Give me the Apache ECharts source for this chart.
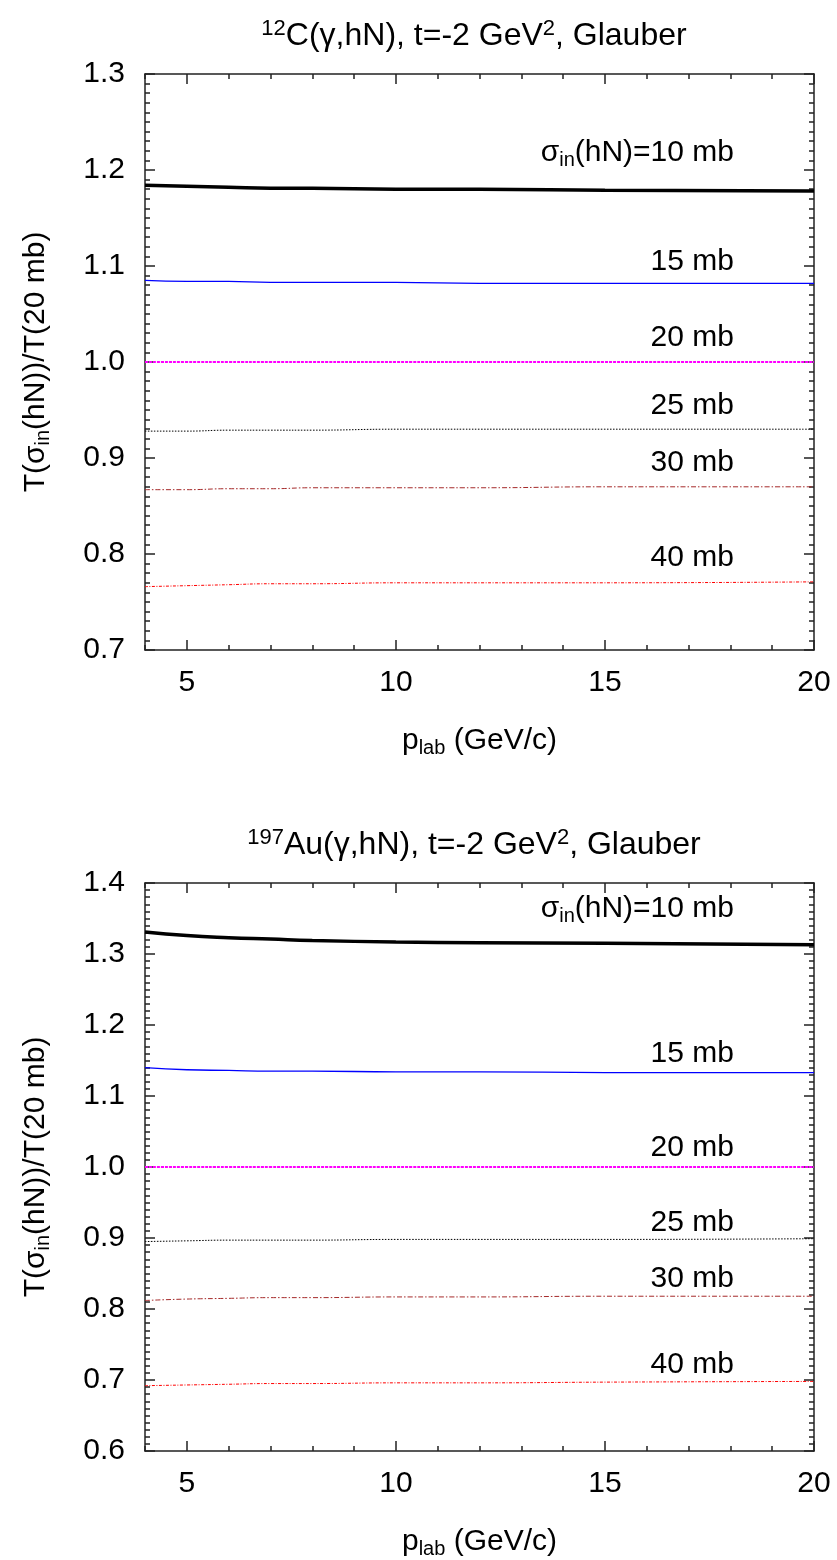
<!DOCTYPE html>
<html>
<head>
<meta charset="utf-8" />
<title>Glauber ratios</title>
<script src="https://cdn.jsdelivr.net/npm/echarts@6/dist/echarts.min.js"></script>
<style>
  * { margin: 0; padding: 0; }
  html, body { width: 837px; height: 1560px; background: #fff; }
</style>
</head>
<body>
<div id="main" style="width:837px;height:1560px;"></div>
<script>
// p_lab (GeV/c)
const pLab = [4, 5, 6, 7, 8, 10, 12, 15, 20];
const xMajorTicks = [5, 10, 15, 20];

// 12C panel
const c12_10mb = [1.184, 1.183, 1.182, 1.181, 1.181, 1.180, 1.180, 1.179, 1.178];
const c12_15mb = [1.085, 1.084, 1.084, 1.083, 1.083, 1.083, 1.082, 1.082, 1.082];
const c12_20mb = [1.000, 1.000, 1.000, 1.000, 1.000, 1.000, 1.000, 1.000, 1.000];
const c12_25mb = [0.928, 0.928, 0.929, 0.929, 0.929, 0.930, 0.930, 0.930, 0.930];
const c12_30mb = [0.867, 0.867, 0.868, 0.868, 0.869, 0.869, 0.869, 0.870, 0.870];
const c12_40mb = [0.766, 0.767, 0.768, 0.769, 0.769, 0.770, 0.770, 0.770, 0.771];

// 197Au panel
const au_10mb = [1.331, 1.326, 1.323, 1.321, 1.319, 1.317, 1.316, 1.315, 1.313];
const au_15mb = [1.140, 1.137, 1.136, 1.135, 1.135, 1.134, 1.134, 1.133, 1.133];
const au_20mb = [1.000, 1.000, 1.000, 1.000, 1.000, 1.000, 1.000, 1.000, 1.000];
const au_25mb = [0.895, 0.896, 0.897, 0.897, 0.897, 0.898, 0.898, 0.898, 0.899];
const au_30mb = [0.812, 0.814, 0.815, 0.816, 0.816, 0.817, 0.817, 0.818, 0.818];
const au_40mb = [0.692, 0.693, 0.694, 0.695, 0.695, 0.696, 0.696, 0.697, 0.698];

const curveLabels = ['{n|σ}{sub|in}{n|(hN)=10 mb}', '15 mb', '20 mb', '25 mb', '30 mb', '40 mb'];

const FONT = '"Liberation Sans", Arial, Helvetica, sans-serif';
const AX = { color: '#222', width: 1.5 };

const styles = [
  { color: '#000000', width: 3.5, type: 'solid' },
  { color: '#0000ff', width: 1.3, type: 'solid' },
  { color: '#ff00ff', width: 2, type: [3, 1] },
  { color: '#000000', width: 1, type: [1.5, 1.5] },
  { color: '#a52a2a', width: 1, type: [5, 2, 1.5, 2] },
  { color: '#ff0000', width: 1, type: [3, 1.5, 1, 1.5] }
];

const rich = {
  n: { fontSize: 30, fontFamily: FONT, fontWeight: 'normal', color: '#000' },
  sub: { fontSize: 20, fontFamily: FONT, fontWeight: 'normal', color: '#000', verticalAlign: 'bottom', padding: [14, 0, 0, 0] },
  sup: { fontSize: 20, fontFamily: FONT, fontWeight: 'normal', color: '#000', verticalAlign: 'top', padding: [0, 0, 14, 0] },
  tn: { fontSize: 32, fontFamily: FONT, fontWeight: 'normal', color: '#000' },
  tsup: { fontSize: 22, fontFamily: FONT, fontWeight: 'normal', color: '#000', verticalAlign: 'top', padding: [0, 0, 15, 0] }
};

const gridTop = [74, 883];
const yRange = [[0.7, 1.3], [0.6, 1.4]];
const panelData = [
  [c12_10mb, c12_15mb, c12_20mb, c12_25mb, c12_30mb, c12_40mb],
  [au_10mb, au_15mb, au_20mb, au_25mb, au_30mb, au_40mb]
];
const titles = [
  '{tsup|12}{tn|C(γ,hN), t=-2 GeV}{tsup|2}{tn|, Glauber}',
  '{tsup|197}{tn|Au(γ,hN), t=-2 GeV}{tsup|2}{tn|, Glauber}'
];
// label centre y offsets below each panel's top
const labelY = [
  [84, 193, 269, 337, 394, 489],
  [31, 176, 270, 345, 401, 487]
];

const grid = [], xAxis = [], yAxis = [], series = [], graphic = [];

for (let p = 0; p < 2; p++) {
  grid.push({ left: 145, right: 23, top: gridTop[p], height: 576 });
  const minorX = pos => ({
    gridIndex: p, type: 'value', min: 4, max: 20, interval: 1, position: pos,
    axisLine: { show: true, lineStyle: AX },
    axisTick: { show: true, inside: true, length: 5, lineStyle: AX },
    axisLabel: { show: false }, splitLine: { show: false }
  });
  const majorX = (pos, withLabels) => ({
    gridIndex: p, type: 'value', min: 4, max: 20, position: pos,
    axisLine: { show: false },
    axisTick: { show: true, inside: true, length: 10, lineStyle: AX, customValues: xMajorTicks },
    axisLabel: withLabels ? { show: true, customValues: xMajorTicks, fontSize: 30, fontFamily: FONT, color: '#000', margin: 18 } : { show: false },
    splitLine: { show: false },
    name: withLabels ? '{n|p}{sub|lab}{n| (GeV/c)}' : '',
    nameLocation: 'middle', nameGap: 74,
    nameTextStyle: { rich: rich }
  });
  xAxis.push(minorX('bottom'), majorX('bottom', true), minorX('top'), majorX('top', false));

  const yAx = (pos, withLabels) => ({
    gridIndex: p, type: 'value', min: yRange[p][0], max: yRange[p][1], interval: 0.1, position: pos,
    axisLine: { show: true, lineStyle: AX },
    axisTick: { show: true, inside: true, length: 10, lineStyle: AX },
    minorTick: { show: true, splitNumber: 10, length: 5, lineStyle: AX },
    axisLabel: withLabels ? { show: true, fontSize: 30, fontFamily: FONT, color: '#000', margin: 20, formatter: v => v.toFixed(1) } : { show: false },
    splitLine: { show: false }, minorSplitLine: { show: false },
    name: withLabels ? '{n|T(σ}{sub|in}{n|(hN))/T(20 mb)}' : '',
    nameLocation: 'middle', nameGap: 92,
    nameTextStyle: { rich: rich }
  });
  yAxis.push(yAx('left', true), yAx('right', false));

  panelData[p].forEach((vals, i) => {
    series.push({
      type: 'line', xAxisIndex: p * 4, yAxisIndex: p * 2,
      data: pLab.map((x, k) => [x, vals[k]]),
      showSymbol: false, smooth: true, silent: true,
      lineStyle: styles[i]
    });
  });

  graphic.push({
    type: 'text', x: 474, y: gridTop[p] - 38,
    style: { text: titles[p], rich: rich, align: 'center', verticalAlign: 'middle' }
  });

  curveLabels.forEach((t, i) => {
    graphic.push({
      type: 'text', right: 103, top: gridTop[p] + labelY[p][i] - 20,
      style: { text: i === 0 ? t : '{n|' + t + '}', rich: rich, textAlign: 'right' }
    });
  });
}

const chart = echarts.init(document.getElementById('main'));
chart.setOption({
  animation: false,
  backgroundColor: '#fff',
  grid, xAxis, yAxis, series, graphic
});
</script>
</body>
</html>
